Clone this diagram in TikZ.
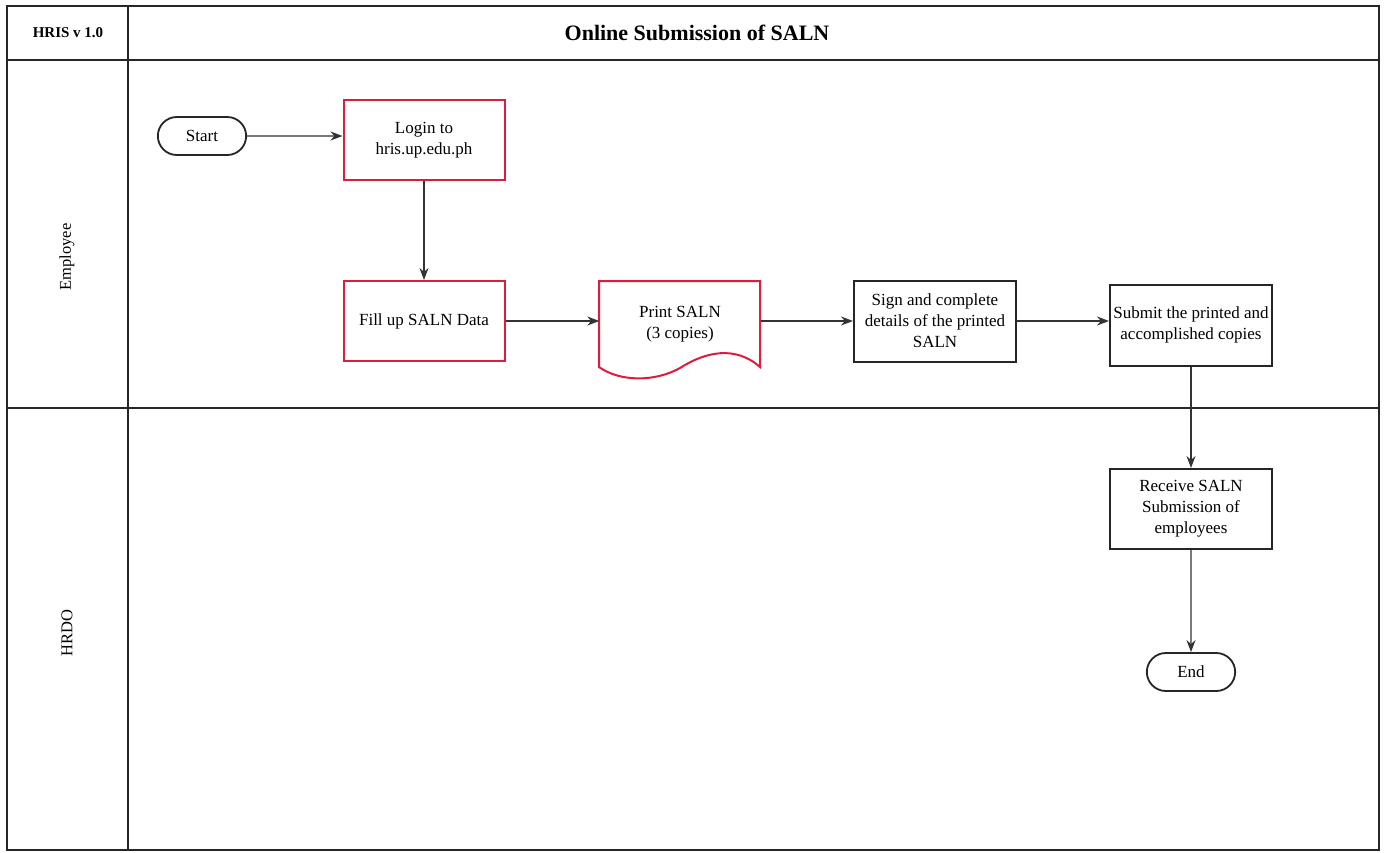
\documentclass[tikz,border=0pt]{standalone}
\usepackage{fontspec}
\setmainfont{Liberation Serif}
\usetikzlibrary{arrows.meta,shapes.misc}
\definecolor{boxred}{RGB}{222,28,64}
\tikzset{
  frame/.style={line width=1.8pt,draw=black!85},
  proc/.style={draw=black!85,line width=2pt,minimum width=161pt,minimum height=80pt,align=center,font=\fontsize{17}{21}\selectfont,inner sep=1pt},
  redproc/.style={proc,draw=boxred},
  term/.style={draw=black!85,line width=1.8pt,rounded rectangle,minimum width=95pt,minimum height=38pt,font=\fontsize{17}{21}\selectfont},
  conn/.style={line width=1.3pt,draw=black!80,-{Stealth[length=12pt,width=9pt]}},
  lane/.style={rotate=90,font=\fontsize{16.5}{20}\selectfont}
}
\begin{document}
\begin{tikzpicture}[x=1pt,y=-1pt]
\useasboundingbox (0,0) rectangle (1387,852);
% frame
\draw[frame] (7,6) rectangle (1379,850);
\draw[frame] (7,60) -- (1379,60);
\draw[frame] (128,6) -- (128,850);
\draw[frame] (7,408) -- (1379,408);
\node[font=\bfseries\fontsize{15}{18}\selectfont] (ver) at (68,33) {HRIS v 1.0};
\node[font=\bfseries\fontsize{22}{26}\selectfont] (title) at (697,33) {Online Submission of SALN};
\node[lane] (emp) at (67,257) {Employee};
\node[lane] (hrdo) at (67,633) {HRDO};
% nodes
\node[term] (start) at (202,136) {Start};
\node[redproc] (login) at (424,140) {Login to\\hris.up.edu.ph};
\node[redproc] (fill) at (424,321) {Fill up SALN Data};
\node[minimum width=161pt,minimum height=86pt,align=center,font=\fontsize{17}{21}\selectfont] (print) at (680,324) {Print SALN\\(3 copies)};
\draw[draw=boxred,line width=2pt] (599,281) -- (760,281) -- (760,367)
  .. controls (735,345) and (705,352) .. (680,368)
  .. controls (655,382) and (620,382) .. (599,367) -- cycle;
\node[proc,minimum width=162pt,minimum height=81pt] (sign) at (935,321) {Sign and complete\\details of the printed\\SALN};
\node[proc,minimum width=162pt,minimum height=81pt] (submit) at (1191,325) {Submit the printed and\\accomplished copies};
\node[proc,minimum width=162pt,minimum height=80pt] (receive) at (1191,509) {Receive SALN\\Submission of\\employees};
\node[term] (end) at (1191,672) {End};
% connectors
\draw[conn] (start) -- (login.west |- start);
\draw[conn] (login) -- (fill);
\draw[conn] (fill) -- (print.west |- fill);
\draw[conn] (print.east |- fill) -- (sign);
\draw[conn] (sign) -- (submit.west |- sign);
\draw[conn] (submit) -- (receive);
\draw[conn] (receive) -- (end);
\end{tikzpicture}
\end{document}
